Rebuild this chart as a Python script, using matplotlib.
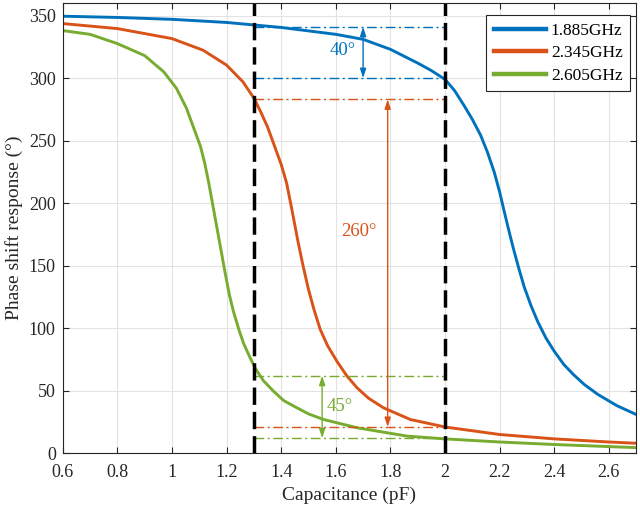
import numpy as np
from matplotlib import pyplot as plt

plt.rcParams['font.family'] = ['Liberation Serif', 'DejaVu Serif']

# curve data
x_blue = [0.6, 0.8, 1.0, 1.2, 1.4, 1.6, 1.7, 1.8, 1.9, 1.95, 2.0, 2.035, 2.07, 2.1,
          2.13, 2.155, 2.18, 2.2, 2.215, 2.235, 2.25, 2.27, 2.29, 2.315, 2.34,
          2.37, 2.4, 2.435, 2.47, 2.51, 2.56, 2.63, 2.7]
y_blue = [349.5, 348.5, 347, 344.5, 340.5, 335, 331, 323, 312, 306, 299, 290, 278, 267,
          254.5, 241, 225, 209, 195, 177, 164, 148, 133, 118, 105,
          92, 81.6, 71, 63, 55, 47, 38, 31]

x_red = [0.6, 0.8, 1.0, 1.114, 1.2, 1.26, 1.3, 1.325, 1.35, 1.375, 1.4, 1.42, 1.44,
         1.46, 1.48, 1.5, 1.52, 1.543, 1.57, 1.604, 1.64, 1.678, 1.72,
         1.775, 1.873, 2.0, 2.2, 2.4, 2.6, 2.7]
y_red = [343.6, 339.6, 331.6, 322.3, 310.4, 297, 284, 273, 261, 246, 231, 216, 194,
         171, 150, 131, 115, 99, 86, 73.6, 62, 52.3, 44,
         36.3, 27, 21, 15, 11.5, 9, 8]

x_green = [0.6, 0.7, 0.8, 0.9, 0.97, 1.016, 1.053, 1.09, 1.105, 1.12, 1.135, 1.15,
           1.165, 1.18, 1.195, 1.21, 1.225, 1.245, 1.262, 1.285, 1.305, 1.335, 1.372,
           1.41, 1.458, 1.5, 1.555, 1.678, 1.861, 2.0, 2.2, 2.4, 2.7]
y_green = [338, 335, 327.6, 318, 305, 292, 276, 254, 245, 232, 216, 198,
           180, 162, 144, 127, 113.5, 99, 88, 77, 68, 58, 49.6,
           42, 36.3, 31.5, 27, 20.4, 13.7, 11.5, 9, 7, 4.5]

labels = ["1.885GHz", "2.345GHz", "2.605GHz"]
colors = ["#0072BD", "#D95319", "#77AC30"]

# tuning window and phase ranges
c_lo, c_hi = 1.3, 2.0
ranges = [(341, 300), (283, 21), (62, 12)]
arrow_x = [1.70, 1.79, 1.55]
range_text = ["40°", "260°", "45°"]
text_pos = [(1.625, 322), (1.685, 177), (1.615, 37)]

fig, ax = plt.subplots(figsize=(6.4, 5.11), dpi=100)
fig.subplots_adjust(left=0.098, right=0.994, bottom=0.113, top=0.994)

for x, y, label, c in zip([x_blue, x_red, x_green], [y_blue, y_red, y_green], labels, colors):
    ax.plot(x, y, color=c, lw=2.1, label=label, solid_joinstyle="round")

for (hi, lo), ax_x, txt, pos, c in zip(ranges, arrow_x, range_text, text_pos, colors):
    for v in (hi, lo):
        ax.plot([c_lo, c_hi], [v, v], color=c, lw=1.0, ls=(0, (7, 2.5, 1.5, 2.5)))
    ax.annotate("", xy=(ax_x, lo), xytext=(ax_x, hi),
                arrowprops=dict(arrowstyle="<|-|>,head_length=0.55,head_width=0.18",
                                color=c, lw=1.0, shrinkA=0, shrinkB=0))
    ax.text(pos[0], pos[1], txt, color=c, fontsize=13.5, ha="center", va="center")

for cx in (c_lo, c_hi):
    ax.axvline(cx, color="black", lw=2.5, ls=(0, (5, 2)))

ax.set_xlim(0.6, 2.7)
ax.set_ylim(0, 360)
ax.set_xticks(np.arange(0.6, 2.61, 0.2))
ax.set_xticklabels(["0.6", "0.8", "1", "1.2", "1.4", "1.6", "1.8", "2", "2.2", "2.4", "2.6"])
ax.set_yticks(np.arange(0, 351, 50))
ax.tick_params(direction="in", top=True, right=True, labelsize=13, colors="#262626",
               length=4)
ax.tick_params(axis="x", pad=8)
ax.tick_params(axis="y", pad=5)
for s in ax.spines.values():
    s.set_color("#262626")
    s.set_linewidth(0.8)
ax.grid(True, color="#e3e3e3", lw=0.8)
ax.set_axisbelow(True)
ax.set_xlabel("Capacitance (pF)", fontsize=14, color="#262626", labelpad=4)
ax.set_ylabel("Phase shift response (°)", fontsize=14, color="#262626", labelpad=4)

leg = ax.legend(loc="upper right", bbox_to_anchor=(0.99, 0.973), borderaxespad=0,
                fontsize=12.5, fancybox=False, framealpha=1, edgecolor="#262626",
                handlelength=3.0, handletextpad=0.3, borderpad=0.45,
                labelspacing=0.35)
for line in leg.get_lines():
    line.set_linewidth(3.2)
leg.get_frame().set_linewidth(0.8)

fig.savefig("out.png", dpi=100)
